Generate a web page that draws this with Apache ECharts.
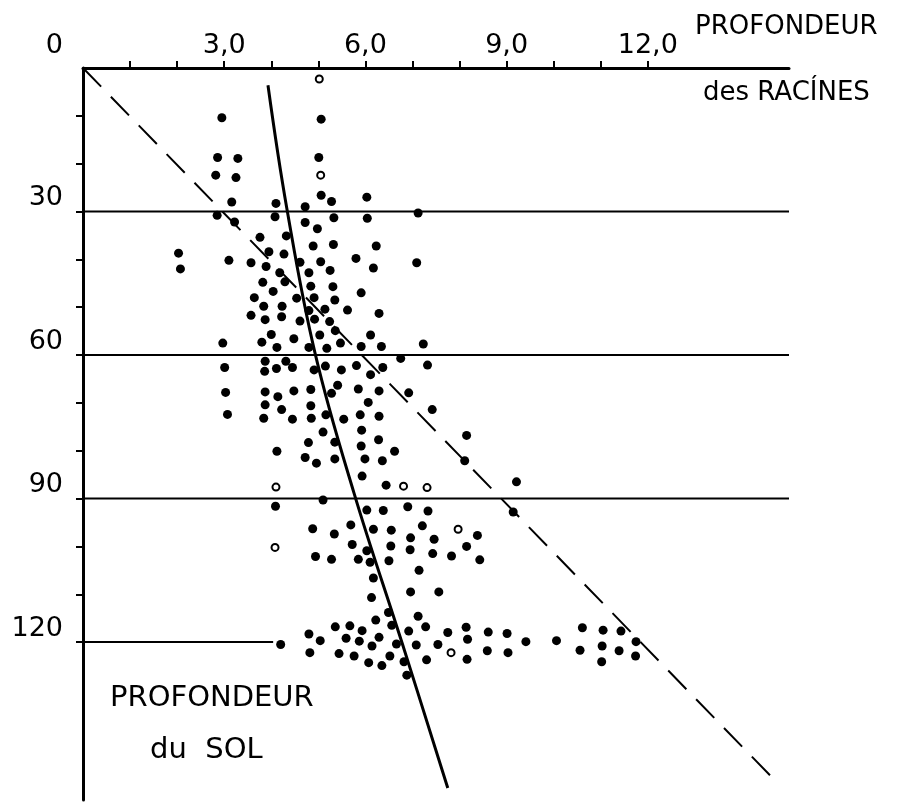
<!DOCTYPE html>
<html><head><meta charset="utf-8">
<script src="https://cdn.jsdelivr.net/npm/echarts@6/dist/echarts.min.js"></script>
<style>html,body{margin:0;padding:0;background:#fff}#c{width:903px;height:803px}</style>
</head><body><div id="c"></div>
<script>
// Axis ticks & labels
const xTickValues = [10,20,30,40,50,60,70,80,90,100,110,120];
const xLabelValues = [30,60,90,120];
const yTickValues = [10,20,30,40,50,60,70,80,90,100,110,120];
const yLabelValues = [0,30,60,90,120];
// Horizontal reference lines (depth levels)
const refLineY = [30,60,90,120];
const refLineStartX = [-3.8,-3.8,-3.8,-3.8];
const refLineEndX = [150,150,150,40.4];
// Curves
const solidCurve = [[39.3,3.6],[43.3,29.3],[49.3,59.6],[57.6,88.9],[67.8,120.2],[77.5,150.5]];
const dashedLine = [[0,0],[147.6,149.5]];
// Observations [root depth, soil depth]
const filledDots = [
[50.6,10.7],[29.5,10.4],[28.6,18.7],[32.9,18.9],[50.1,18.7],[28.2,22.4],[32.5,22.9],[31.6,28.0],
[50.6,26.6],[52.8,27.9],[60.3,27.0],[41.0,28.3],[47.2,29.0],[71.2,30.3],[28.5,30.8],[32.2,32.2],
[40.8,31.1],[47.2,32.3],[53.3,31.3],[60.4,31.4],[49.8,33.6],[37.6,35.4],[43.2,35.1],[48.9,37.2],
[53.2,36.9],[62.3,37.2],[20.3,38.7],[20.7,42.0],[31.0,40.2],[39.5,38.4],[42.7,38.9],[35.7,40.7],
[38.9,41.5],[46.1,40.6],[50.5,40.5],[58.0,39.8],[61.7,41.8],[70.9,40.7],[41.8,42.8],[48.0,42.8],
[52.5,42.3],[38.2,44.8],[42.9,44.7],[48.4,45.6],[53.1,45.7],[59.1,47.0],[40.4,46.7],[36.4,48.0],
[45.4,48.1],[49.1,48.0],[53.5,48.5],[38.4,49.8],[42.3,49.8],[48.0,50.7],[51.4,50.4],[56.2,50.6],
[62.9,51.3],[35.7,51.7],[38.7,52.6],[42.2,52.0],[46.1,52.9],[49.2,52.5],[52.4,53.0],[53.6,54.9],
[50.3,55.8],[40.0,55.7],[44.8,56.6],[61.1,55.8],[29.7,57.5],[38.0,57.3],[41.2,58.4],[48.0,58.4],
[51.8,58.6],[54.7,57.5],[59.1,58.2],[63.4,58.2],[72.3,57.7],[67.5,60.7],[73.2,62.1],[30.1,62.6],
[38.7,61.3],[38.6,63.4],[41.1,62.8],[43.1,61.3],[44.5,62.6],[49.1,63.1],[51.5,62.3],[54.9,63.1],
[58.1,62.2],[61.1,64.1],[63.7,62.6],[30.3,67.8],[38.7,67.7],[41.4,68.7],[44.8,67.5],[48.4,67.2],
[54.1,66.3],[52.8,68.0],[58.5,67.1],[62.9,67.5],[69.2,67.9],[30.7,72.4],[38.7,70.4],[42.2,71.4],
[48.4,70.6],[60.6,69.9],[74.2,71.4],[38.4,73.2],[44.5,73.4],[48.5,73.2],[51.6,72.5],[55.4,73.4],
[58.9,72.5],[62.9,72.8],[51.0,76.1],[59.2,75.7],[47.9,78.3],[53.5,78.2],[59.1,79.0],[62.8,77.7],
[66.2,80.1],[81.5,76.8],[41.2,80.1],[47.2,81.4],[49.6,82.6],[53.5,81.7],[59.9,81.7],[63.6,82.1],
[81.1,82.1],[59.3,85.3],[64.4,87.2],[92.1,86.5],[51.0,90.3],[40.9,91.6],[60.3,92.4],[63.8,92.5],
[69.0,91.7],[73.3,92.6],[91.4,92.8],[48.8,96.3],[56.9,95.5],[53.4,97.4],[61.7,96.4],[65.5,96.6],
[72.1,95.7],[69.6,98.2],[74.6,98.5],[83.8,97.7],[49.4,102.1],[52.8,102.7],[57.2,99.6],[60.3,100.9],
[65.4,99.9],[58.5,102.7],[61.0,103.3],[65.0,103.0],[69.5,100.7],[74.3,101.5],[78.3,102.0],[81.5,100.0],
[84.3,102.8],[71.4,105.0],[61.7,106.6],[61.3,110.7],[69.6,109.5],[75.6,109.5],
[48.0,118.3],[50.4,119.7],[42.0,120.5],[48.2,122.2],[53.6,116.8],[56.7,116.6],[59.3,117.6],[55.9,119.2],
[58.7,119.8],[61.4,120.8],[62.9,119.0],[54.4,122.4],[57.6,122.9],[60.7,124.3],[63.5,124.9],[62.2,115.4],
[64.9,113.8],[65.6,116.5],[65.2,122.9],[66.6,120.4],[69.2,117.7],[71.2,114.6],[72.8,116.8],[70.8,120.6],
[68.2,124.1],[68.8,126.9],[73.0,123.7],[75.4,120.5],[77.5,118.0],[81.4,116.9],[81.7,119.4],[86.1,117.9],
[90.1,118.2],[94.1,119.9],[100.6,119.7],[81.6,123.6],[85.9,121.8],[90.3,122.2],[106.1,117.0],[110.5,117.5],
[114.3,117.7],[117.5,119.9],[105.6,121.7],[110.3,120.8],[113.9,121.8],[117.4,122.9],[110.2,124.1]
];
const hollowDots = [[50.2,2.3],[50.5,22.4],[41.0,87.6],[68.1,87.4],[73.1,87.7],[79.7,96.4],[40.8,100.2],[78.2,122.2]];

const FONT = 'DejaVu Sans';
const chart = echarts.init(document.getElementById('c'), null, {renderer:'canvas'});

const series = [];
refLineY.forEach((y,i)=>{
  series.push({type:'line', data:[[refLineStartX[i],y],[refLineEndX[i],y]], symbol:'none', clip:false,
    lineStyle:{color:'#000', width:2}, silent:true, z:2});
});
series.push({type:'line', data:solidCurve, smooth:0.4, symbol:'none', clip:false,
  lineStyle:{color:'#000', width:3}, z:3});
series.push({type:'line', data:dashedLine, symbol:'none', clip:false,
  lineStyle:{color:'#000', width:2, type:[26,14]}, z:3});
series.push({type:'scatter', data:filledDots, symbol:'circle', symbolSize:9,
  itemStyle:{color:'#000', opacity:1}, z:4});
series.push({type:'scatter', data:hollowDots, symbol:'circle', symbolSize:7,
  itemStyle:{color:'#fff', borderColor:'#000', borderWidth:2, opacity:1}, z:5});

chart.setOption({
  animation:false,
  backgroundColor:'#fff',
  grid:{left:83, top:68, width:706, height:732},
  xAxis:{type:'value', position:'top', min:0, max:150,
    axisLine:{show:true, lineStyle:{color:'#000', width:3}},
    axisTick:{show:true, customValues:xTickValues, length:7, lineStyle:{color:'#000', width:2}},
    axisLabel:{show:true, customValues:xLabelValues, margin:9, color:'#000', fontSize:27, fontFamily:FONT,
      formatter:v=>(v/10).toFixed(1).replace('.',',')},
    splitLine:{show:false}},
  yAxis:{type:'value', inverse:true, min:0, max:153,
    axisLine:{show:true, onZero:false, lineStyle:{color:'#000', width:3}},
    axisTick:{show:true, customValues:yTickValues, length:7, lineStyle:{color:'#000', width:2}},
    axisLabel:{show:true, customValues:yLabelValues, margin:20, color:'#000', fontSize:27, fontFamily:FONT,
      verticalAlign:'bottom',
      formatter:v=> v===0 ? '{z|0}' : String(v),
      rich:{z:{fontSize:27, fontFamily:FONT, color:'#000', padding:[0,0,9,0]}}},
    splitLine:{show:false}},
  graphic:[
    {type:'text', left:695, top:14, style:{text:'PROFONDEUR', font:'26px "DejaVu Sans"', fill:'#000'}},
    {type:'text', left:703, top:80, style:{text:'des RACÍNES', font:'26px "DejaVu Sans"', fill:'#000'}},
    {type:'text', left:110, top:684, style:{text:'PROFONDEUR', font:'29px "DejaVu Sans"', fill:'#000'}},
    {type:'text', left:150, top:736, style:{text:'du  SOL', font:'29px "DejaVu Sans"', fill:'#000'}}
  ],
  series:series
});
</script></body></html>
